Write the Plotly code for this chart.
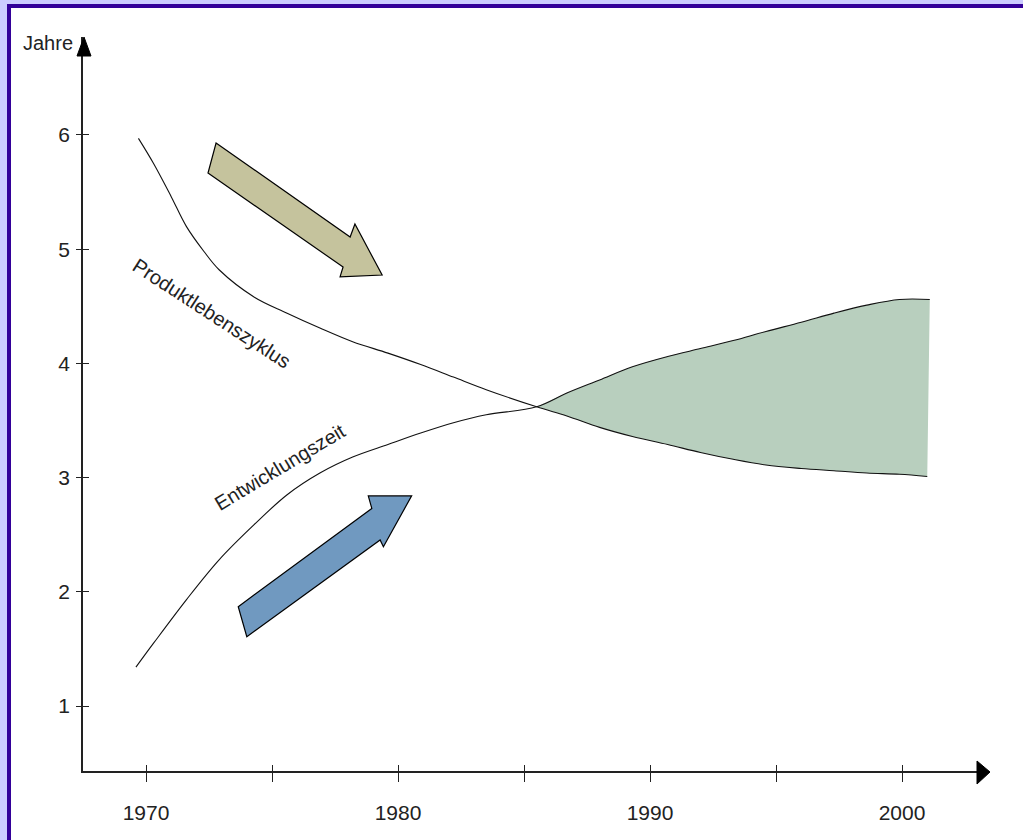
import plotly.graph_objects as go

# Produktlebenszyklus (years) over calendar year
produkt_jahr = [1969.7, 1970.3, 1971.0, 1971.6, 1972.3, 1972.9, 1974.3, 1975.6, 1976.9,
                1978.2, 1979.6, 1980.9, 1982.2, 1983.5, 1985.5, 1986.7, 1988.0, 1989.3,
                1990.7, 1992.0, 1993.3, 1994.6, 1996.0, 1997.3, 1998.6, 1999.9, 2001.0]
produkt_dauer = [5.97, 5.75, 5.46, 5.20, 4.98, 4.82, 4.58, 4.44, 4.31,
                 4.19, 4.09, 3.99, 3.88, 3.77, 3.62, 3.54, 3.44, 3.36,
                 3.29, 3.22, 3.16, 3.11, 3.08, 3.06, 3.04, 3.03, 3.01]

# Entwicklungszeit (years) over calendar year
entw_jahr = [1969.6, 1970.3, 1971.6, 1972.9, 1974.3, 1975.6, 1976.9, 1978.2, 1979.6,
             1980.9, 1982.2, 1983.5, 1985.5, 1986.7, 1988.0, 1989.3, 1990.7, 1992.0,
             1993.3, 1994.6, 1996.0, 1997.3, 1998.6, 1999.9, 2001.1]
entw_dauer = [1.34, 1.55, 1.93, 2.28, 2.59, 2.85, 3.04, 3.18, 3.29,
              3.39, 3.48, 3.55, 3.62, 3.74, 3.855, 3.97, 4.06, 4.13,
              4.20, 4.28, 4.36, 4.44, 4.51, 4.56, 4.56]

schnittpunkt_jahr = 1985.5

x_ticks = [1970, 1975, 1980, 1985, 1990, 1995, 2000]
x_ticktext = ["1970", "", "1980", "", "1990", "", "2000"]
y_ticks = [1, 2, 3, 4, 5, 6]
y_ticktext = ["1", "2", "3", "4", "5", "6"]

# outlines of the two trend arrows (year, Jahre)
pfeil_abwaerts = [(1972.78, 5.93), (1978.10, 5.107), (1978.29, 5.22), (1979.37, 4.774),
                  (1977.70, 4.757), (1977.82, 4.844), (1972.46, 5.667)]
pfeil_aufwaerts = [(1973.66, 1.87), (1978.96, 2.73), (1978.82, 2.84), (1980.54, 2.84),
                   (1979.42, 2.395), (1979.29, 2.454), (1974.00, 1.607)]

W, H = 1023, 840
FONT = "Liberation Sans, Arial, sans-serif"
X_RANGE = [1967.5, 2003.45]
Y_RANGE = [0.431, 6.858]
X_DOMAIN = [83 / W, 989 / W]
Y_DOMAIN = [1 - 771 / H, 1 - 37 / H]


def px(xp, yp):
    return xp / W, 1 - yp / H


def path(points):
    return "M " + " L ".join(f"{x},{y}" for x, y in points) + " Z"


# parts of both curves after the crossing form the shaded gap
fill_unten_x = [x for x in produkt_jahr if x >= schnittpunkt_jahr]
fill_unten_y = [y for x, y in zip(produkt_jahr, produkt_dauer) if x >= schnittpunkt_jahr]
fill_oben_x = [x for x in entw_jahr if x >= schnittpunkt_jahr]
fill_oben_y = [y for x, y in zip(entw_jahr, entw_dauer) if x >= schnittpunkt_jahr]

line_style = dict(color="#111111", width=1.1, shape="spline", smoothing=1.0)

fig = go.Figure()
fig.add_trace(go.Scatter(x=fill_unten_x, y=fill_unten_y, mode="lines",
                         line=dict(width=0, shape="spline", smoothing=1.0),
                         hoverinfo="skip", showlegend=False))
fig.add_trace(go.Scatter(x=fill_oben_x, y=fill_oben_y, mode="lines", fill="tonexty",
                         fillcolor="#b8cfbe",
                         line=dict(width=0, shape="spline", smoothing=1.0),
                         hoverinfo="skip", showlegend=False))
fig.add_trace(go.Scatter(x=produkt_jahr, y=produkt_dauer, mode="lines",
                         line=line_style, name="Produktlebenszyklus", showlegend=False))
fig.add_trace(go.Scatter(x=entw_jahr, y=entw_dauer, mode="lines",
                         line=line_style, name="Entwicklungszeit", showlegend=False))
# carrier for the overlay axes that draw the inner half of the tick crosses
fig.add_trace(go.Scatter(x=[], y=[], xaxis="x2", yaxis="y2", showlegend=False,
                         hoverinfo="skip"))

shapes = []
# slide frame
shapes.append(dict(type="rect", xref="paper", yref="paper",
                   x0=px(7, 0)[0], x1=1.01, y0=-0.01, y1=px(0, 4)[1],
                   fillcolor="#330099", line=dict(width=0), layer="below"))
shapes.append(dict(type="rect", xref="paper", yref="paper",
                   x0=px(11, 0)[0], x1=1.01, y0=-0.01, y1=px(0, 8)[1],
                   fillcolor="white", line=dict(width=0), layer="below"))
# arrow heads of the axes
shapes.append(dict(type="path", xref="paper", yref="paper",
                   path=path([px(84, 37), px(91, 56), px(77, 56)]),
                   fillcolor="black", line=dict(color="black", width=1)))
shapes.append(dict(type="path", xref="paper", yref="paper",
                   path=path([px(990, 772), px(977, 784), px(977, 761)]),
                   fillcolor="black", line=dict(color="black", width=1)))
# trend arrows
shapes.append(dict(type="path", xref="x", yref="y", path=path(pfeil_abwaerts),
                   fillcolor="#c5c39d", line=dict(color="black", width=1.2)))
shapes.append(dict(type="path", xref="x", yref="y", path=path(pfeil_aufwaerts),
                   fillcolor="#7099c0", line=dict(color="black", width=1.2)))

label_font = dict(family=FONT, size=20, color="#222222")
annotations = [
    dict(text="Produktlebenszyklus", x=1972.58, y=4.44, xref="x", yref="y",
         textangle=33, showarrow=False, font=label_font),
    dict(text="Entwicklungszeit", x=1975.32, y=3.09, xref="x", yref="y",
         textangle=-31, showarrow=False, font=label_font),
    dict(text="Jahre", x=px(48, 43)[0], y=px(48, 43)[1], xref="paper", yref="paper",
         xanchor="center", yanchor="middle", showarrow=False, font=label_font),
]

axis_font = dict(family=FONT, size=21, color="#222222")
fig.update_layout(
    width=W, height=H,
    margin=dict(l=0, r=0, t=0, b=0),
    paper_bgcolor="#ccccff",
    plot_bgcolor="rgba(0,0,0,0)",
    shapes=shapes,
    annotations=annotations,
    xaxis=dict(domain=X_DOMAIN, range=X_RANGE, anchor="y",
               tickmode="array", tickvals=x_ticks, ticktext=x_ticktext,
               ticks="outside", ticklen=9, tickwidth=1.3, tickcolor="#222222",
               showline=True, linecolor="#222222", linewidth=1.8,
               showgrid=False, zeroline=False, tickfont=axis_font,
               ticklabelstandoff=13),
    yaxis=dict(domain=Y_DOMAIN, range=Y_RANGE, anchor="x",
               tickmode="array", tickvals=y_ticks, ticktext=y_ticktext,
               ticks="outside", ticklen=5, tickwidth=1.3, tickcolor="#222222",
               showline=True, linecolor="#222222", linewidth=1.8,
               showgrid=False, zeroline=False, tickfont=axis_font,
               ticklabelstandoff=2),
    xaxis2=dict(domain=X_DOMAIN, range=X_RANGE, overlaying="x", anchor="y2", side="bottom",
                tickmode="array", tickvals=x_ticks, showticklabels=False,
                ticks="inside", ticklen=6, tickwidth=1.3, tickcolor="#222222",
                showline=False, showgrid=False, zeroline=False),
    yaxis2=dict(domain=Y_DOMAIN, range=Y_RANGE, overlaying="y", anchor="x2", side="left",
                tickmode="array", tickvals=y_ticks, showticklabels=False,
                ticks="inside", ticklen=6, tickwidth=1.3, tickcolor="#222222",
                showline=False, showgrid=False, zeroline=False),
)

fig.write_html("out.html")
